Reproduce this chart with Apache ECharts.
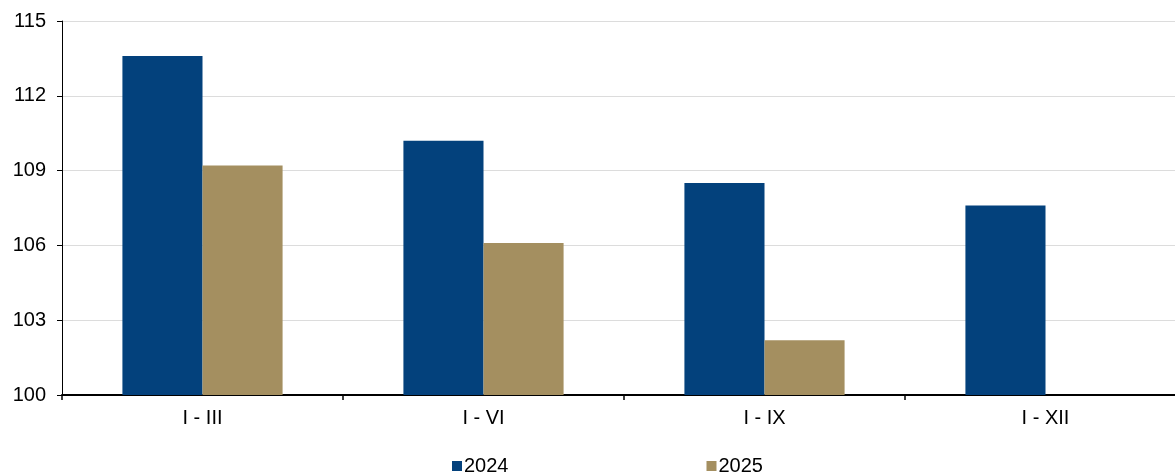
<!DOCTYPE html>
<html>
<head>
<meta charset="utf-8">
<script src="https://cdn.jsdelivr.net/npm/echarts@6/dist/echarts.min.js"></script>
<style>html,body{margin:0;padding:0;background:#fff;overflow:hidden;width:1175px;height:472px}#c{width:1186px;height:472px}</style>
</head>
<body>
<div id="c"></div>
<script>
const categories = ['I - III', 'I - VI', 'I - IX', 'I - XII'];
const values2024 = [113.6, 110.2, 108.5, 107.6];
const values2025 = [109.2, 106.1, 102.2, null];
const seriesNames = ['2024', '2025'];

const chart = echarts.init(document.getElementById('c'), null, {renderer: 'canvas'});
const font = 'Arial, "Liberation Sans", sans-serif';
chart.setOption({
  animation: false,
  textStyle: {fontFamily: font},
  grid: {left: 62, right: 0, top: 21, bottom: 77, containLabel: false},
  legend: {
    data: seriesNames,
    left: 447, top: 451,
    itemWidth: 10, itemHeight: 10, itemGap: 198,
    icon: 'rect',
    textStyle: {fontFamily: font, fontSize: 20, color: '#000', padding: [0,0,0,-3]}
  },
  xAxis: {
    type: 'category',
    data: categories,
    axisLine: {lineStyle: {color: '#000', width: 2}},
    axisTick: {show: true, length: 5, lineStyle: {color: '#000', width: 1.5}},
    axisLabel: {color: '#000', fontSize: 20, margin: 13, fontFamily: font}
  },
  yAxis: {
    type: 'value',
    min: 100, max: 115, interval: 3,
    axisLine: {show: true, lineStyle: {color: '#000', width: 1}},
    axisTick: {show: true, length: 5, lineStyle: {color: '#000'}},
    axisLabel: {color: '#000', fontSize: 20, margin: 16, fontFamily: font},
    splitLine: {lineStyle: {color: '#dcdcdc', width: 1}}
  },
  series: [
    {name: seriesNames[0], type: 'bar', data: values2024, barGap: '0%', barCategoryGap: '43%',
     itemStyle: {color: '#03417C'}},
    {name: seriesNames[1], type: 'bar', data: values2025,
     itemStyle: {color: '#A48F60'}}
  ]
});
</script>
</body>
</html>
